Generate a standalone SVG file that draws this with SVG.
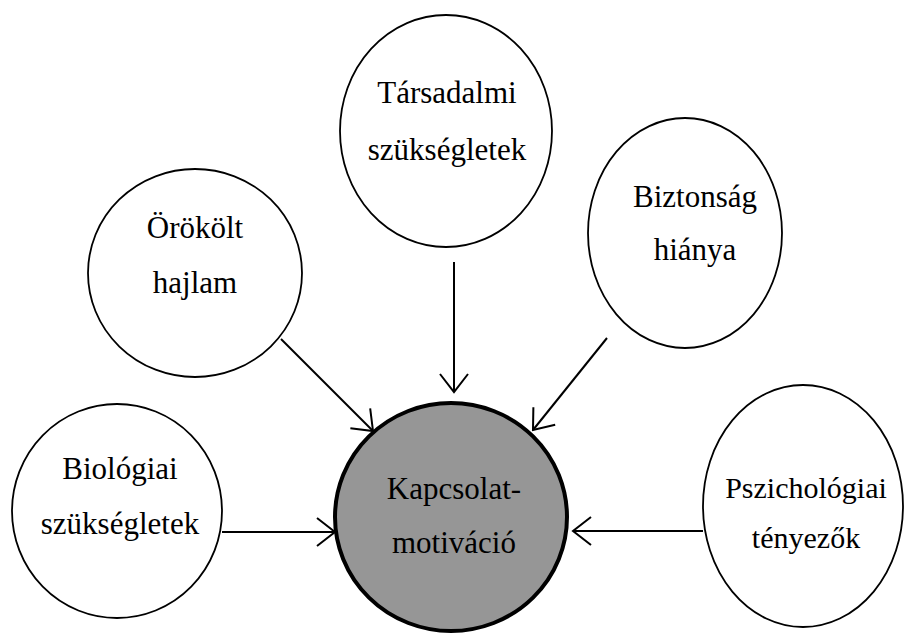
<svg xmlns="http://www.w3.org/2000/svg" width="904" height="634" viewBox="0 0 904 634">
<style>
.node{fill:#ffffff;stroke:#000000;stroke-width:1.8}
.center{fill:#969696;stroke:#000000;stroke-width:4}
.lbl{font-family:"Liberation Serif","Times New Roman",serif;font-size:31px;fill:#000000;text-anchor:middle}
.conn{stroke:#000000;stroke-width:2;fill:none;marker-end:url(#arr)}
</style>
<defs>
<marker id="arr" markerUnits="userSpaceOnUse" viewBox="-20 -16 22 32" refX="0" refY="0" markerWidth="22" markerHeight="32" orient="auto">
<path d="M-18,-14 L0,0 L-18,14" fill="none" stroke="#000000" stroke-width="2"/>
</marker>
</defs>
<rect width="904" height="634" fill="#ffffff"/>
<g id="connectors">
<line class="conn" x1="281" y1="339" x2="373" y2="431"/>
<line class="conn" x1="454" y1="262" x2="454" y2="392"/>
<line class="conn" x1="607" y1="338" x2="533" y2="430"/>
<line class="conn" x1="222" y1="532" x2="335" y2="532"/>
<line class="conn" x1="703" y1="531" x2="573" y2="531"/>
</g>
<g id="node-tarsadalmi">
<ellipse class="node" cx="446" cy="131" rx="106" ry="116"/>
<text class="lbl" x="447" y="103">Társadalmi</text>
<text class="lbl" x="447" y="160">szükségletek</text>
</g>
<g id="node-orokolt">
<ellipse class="node" cx="195" cy="273" rx="107" ry="104"/>
<text class="lbl" x="195" y="238">Örökölt</text>
<text class="lbl" x="195" y="293">hajlam</text>
</g>
<g id="node-biztonsag">
<ellipse class="node" cx="685" cy="233" rx="97" ry="115"/>
<text class="lbl" x="695" y="207">Biztonság</text>
<text class="lbl" x="695" y="260">hiánya</text>
</g>
<g id="node-biologiai">
<ellipse class="node" cx="117" cy="511" rx="105" ry="107"/>
<text class="lbl" x="120" y="479">Biológiai</text>
<text class="lbl" x="120" y="534">szükségletek</text>
</g>
<g id="node-pszichologiai">
<ellipse class="node" cx="803" cy="506" rx="100" ry="121"/>
<text class="lbl" x="806" y="498" style="font-size:30px">Pszichológiai</text>
<text class="lbl" x="806" y="548" style="font-size:30px">tényezők</text>
</g>
<g id="node-kapcsolat">
<ellipse class="center" cx="451" cy="517" rx="116" ry="114"/>
<text class="lbl" x="454" y="499">Kapcsolat-</text>
<text class="lbl" x="454" y="553">motiváció</text>
</g>
</svg>
